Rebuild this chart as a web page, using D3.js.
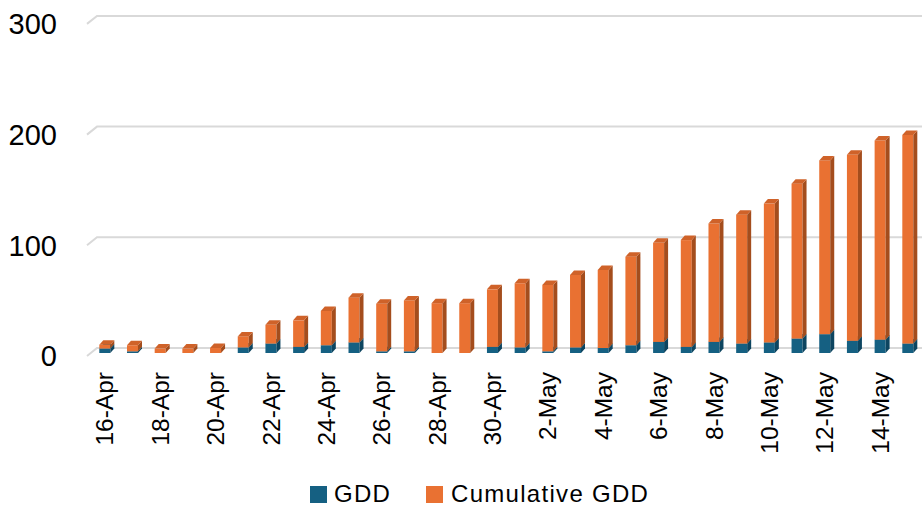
<!DOCTYPE html>
<html><head><meta charset="utf-8">
<script src="https://cdn.jsdelivr.net/npm/d3@7"></script>
<style>body{margin:0;background:#fff}svg{display:block}text{font-family:"Liberation Sans",Arial,sans-serif;fill:#000}</style>
</head><body><svg id="c" width="922" height="508"></svg>
<script>
const dates = ["16-Apr","17-Apr","18-Apr","19-Apr","20-Apr","21-Apr","22-Apr","23-Apr","24-Apr","25-Apr","26-Apr","27-Apr","28-Apr","29-Apr","30-Apr","1-May","2-May","3-May","4-May","5-May","6-May","7-May","8-May","9-May","10-May","11-May","12-May","13-May","14-May","15-May"];
const gdd = [4,1.5,0,0,0,5,8.5,5.5,7,9.5,1.5,1.5,0,0,5.5,5,1.5,5,4.5,7,10,5.5,10,8.5,9.5,13,17,11,12,8.5];
const cumGdd = [3.5,5.5,4,4,4.5,10,17,24,31,40.5,43,46,45,45,52,58,60,65.5,70.5,80,89.5,96.5,107,116.5,125.5,140,157,168,180,188.5];
const yTicks = [0,100,200,300];
const seriesNames = ["GDD","Cumulative GDD"];
const colors = {front:["#156082","#E97132"], side:["#0d4560","#a44d1d"], top:["#1b6d92","#cf6229"]};

const svg = d3.select("#c");
const x = d3.scaleBand().domain(dates).range([90.95, 921.65]).paddingInner(0.603).paddingOuter(0.3015);
const y = d3.scaleLinear().domain([0,300]).range([353, 20.9]);
const dx = 4, dy = -4.5;

// gridlines (back wall) with slanted left edge
const g = svg.append("g");
yTicks.forEach(v => {
  const yb = y(v) - 5;
  g.append("path").attr("d", `M87,${yb+8}L97,${yb}L922,${yb}`).attr("fill","none").attr("stroke","#d9d9d9").attr("stroke-width",2);
  svg.append("text").attr("x",57).attr("y",yb+8).attr("dy","0.36em").attr("text-anchor","end").attr("font-size",29).text(v);
});

// bars
const bars = svg.append("g");
dates.forEach((d,i) => {
  const segs = [[0, gdd[i]], [gdd[i], gdd[i]+cumGdd[i]]];
  segs.forEach((s,k) => {
    if (s[1] - s[0] <= 0) return;
    const x0 = x(d), w = x.bandwidth();
    const yt = y(s[1]), yb = y(s[0]);
    bars.append("rect").attr("x",x0).attr("y",yt).attr("width",w).attr("height",yb-yt).attr("fill",colors.front[k]);
    bars.append("path").attr("d",`M${x0+w},${yt}L${x0+w+dx},${yt+dy}L${x0+w+dx},${yb+dy}L${x0+w},${yb}Z`).attr("fill",colors.side[k]);
    bars.append("path").attr("d",`M${x0},${yt}L${x0+dx},${yt+dy}L${x0+w+dx},${yt+dy}L${x0+w},${yt}Z`).attr("fill",colors.top[k]);
  });
});

// x labels every 2 days
dates.forEach((d,i) => {
  if (i % 2 !== 0) return;
  const cx = x(d) + x.bandwidth()/2;
  svg.append("text").attr("transform",`translate(${cx},372) rotate(-90)`).attr("text-anchor","end").attr("dy","0.35em").attr("font-size",24.5).text(d);
});

// legend
const lg = svg.append("g");
const items = [{x:310, tx:334},{x:426, tx:451}];
seriesNames.forEach((n,k) => {
  lg.append("rect").attr("x",items[k].x).attr("y",486).attr("width",17).attr("height",17).attr("fill",colors.front[k]);
  lg.append("text").attr("x",items[k].tx).attr("y",502).attr("font-size",24).attr("letter-spacing",1.3).text(n);
});
</script></body></html>
